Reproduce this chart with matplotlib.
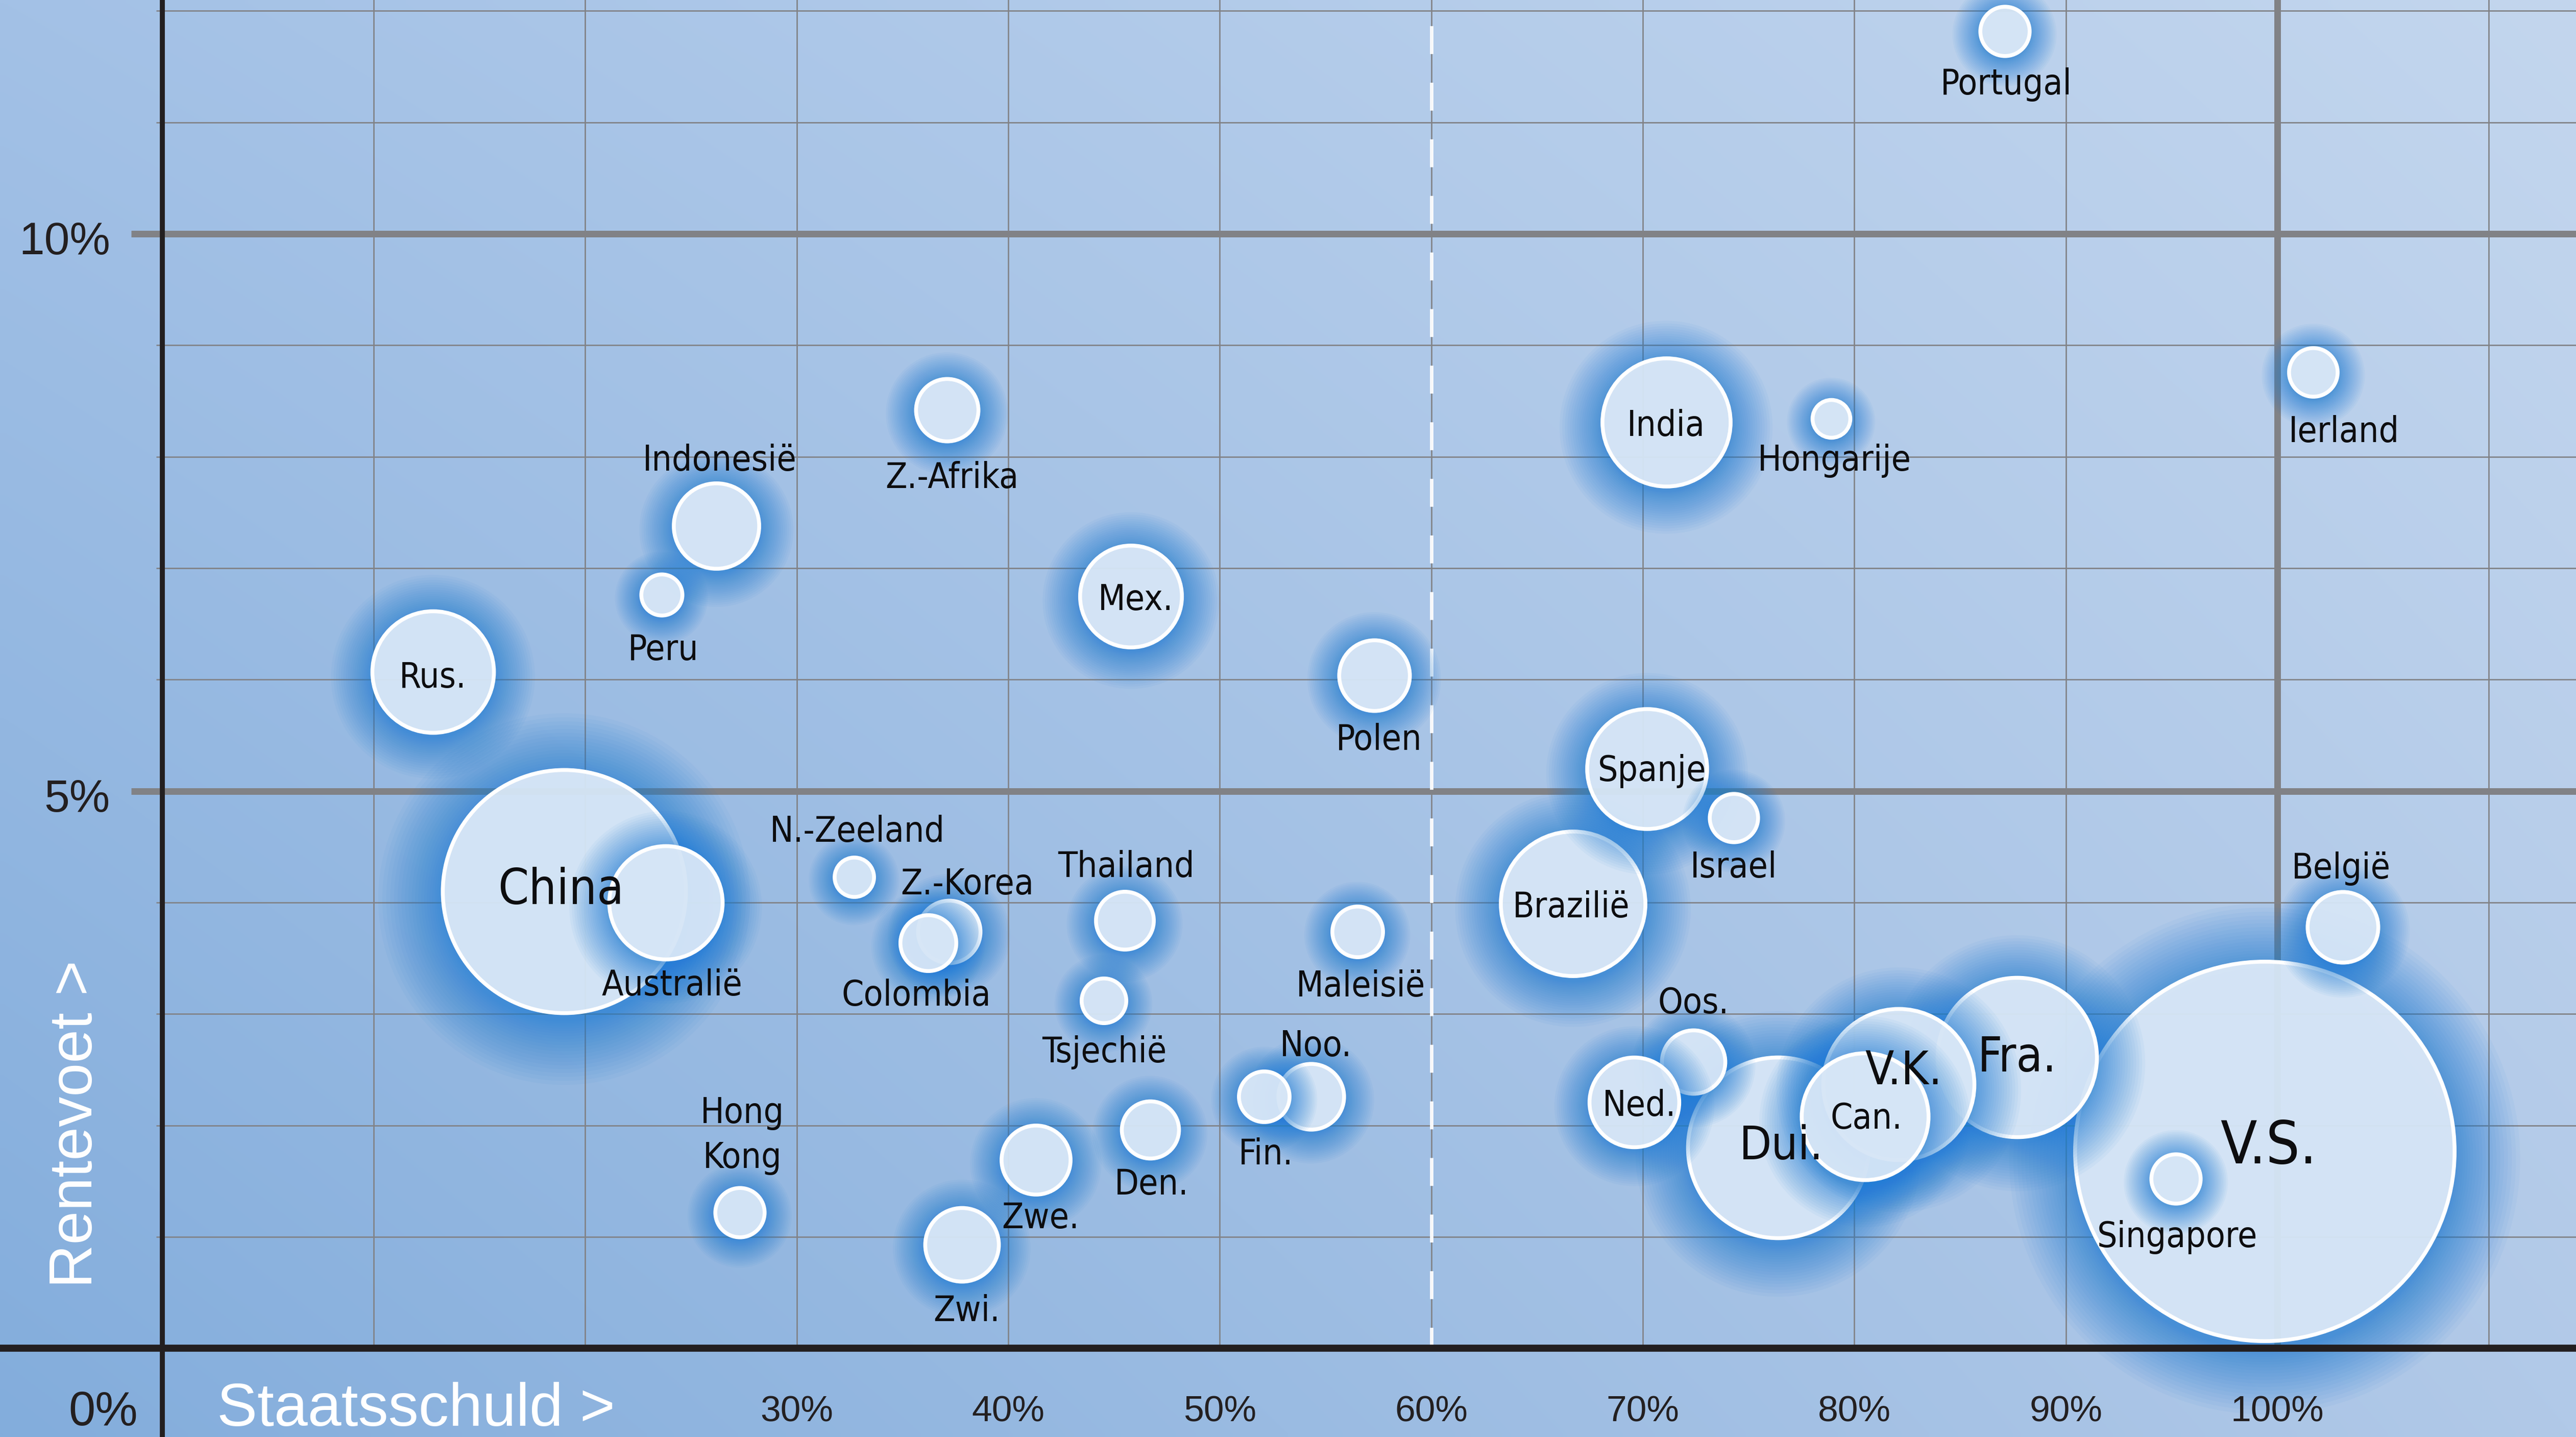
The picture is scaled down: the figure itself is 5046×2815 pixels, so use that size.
import numpy as np
import matplotlib
matplotlib.use('Agg')
import matplotlib.pyplot as plt
from matplotlib.colors import to_rgb

# --- DATA (drawing order: back to front) ---
landen = ['V.S.', 'China', 'Dui.', 'Fra.', 'V.K.', 'Brazilië', 'India', 'Can.', 'Rus.',
          'Spanje', 'Australië', 'Mex.', 'Oos.', 'Ned.', 'Indonesië', 'Zwi.', 'Polen',
          'België', 'Zwe.', 'Noo.', 'Z.-Korea', 'Z.-Afrika', 'Thailand', 'Den.', 'Colombia',
          'Maleisië', 'Fin.', 'Portugal', 'Singapore', 'Hong\nKong', 'Ierland', 'Israel',
          'Tsjechië', 'Peru', 'N.-Zeeland', 'Hongarije']
staatsschuld = [99.4, 19.0, 76.4, 87.7, 82.1, 66.7, 71.1, 80.5, 12.8,
                70.2, 23.8, 45.8, 72.4, 69.6, 26.2, 37.8, 57.3,
                103.1, 41.3, 54.3, 37.2, 37.1, 45.5, 46.7, 36.2,
                56.5, 52.1, 87.1, 95.2, 27.3, 101.7, 74.3,
                44.5, 23.6, 32.7, 78.9]
rentevoet = [1.77, 4.10, 1.80, 2.61, 2.37, 3.99, 8.31, 2.08, 6.07,
             5.20, 4.00, 6.75, 2.57, 2.21, 7.38, 0.93, 6.04,
             3.78, 1.69, 2.26, 3.74, 8.42, 3.84, 1.96, 3.64,
             3.74, 2.26, 11.82, 1.52, 1.22, 8.76, 4.76,
             3.12, 6.76, 4.23, 8.34]
omvang = [14941, 6133, 3388, 2634, 2370, 2168, 1704, 1669, 1533,
          1492, 1333, 1076, 417, 835, 757, 562, 518,
          518, 494, 448, 404, 404, 347, 339, 324,
          266, 266, 252, 252, 252, 245, 242,
          207, 175, 161, 148]

x_ticks = [30, 40, 50, 60, 70, 80, 90, 100]
y_ticks = [0, 5, 10]

# --- layout / style ---
W, H = 15.68, 8.75
DPI = 5046 / W
PT = 0.72                      # points per reference pixel (1568 px wide)
XMIN, XMAX = -7.670, 114.12
YMIN, YMAX = -0.796, 12.102
PX_Y = (YMAX - YMIN) / 875     # data units per reference pixel (vertical)
GRID = '#818286'
INK = '#231f20'
GLOW = to_rgb('#1f7dd6')

# label offsets in reference px (x right, y down) and font sizes
label_offset = {
    'Portugal': (1, 30), 'Ierland': (18.5, 34), 'India': (0, 0), 'Hongarije': (2, 23),
    'Z.-Afrika': (3, 39), 'Indonesië': (2, -42), 'Peru': (1, 31), 'Mex.': (3, 0),
    'Rus.': (0, 1), 'Polen': (3, 37), 'Spanje': (3, -1), 'Israel': (0, 28),
    'België': (-1, -38), 'China': (-2, -4), 'Australië': (4, 48), 'N.-Zeeland': (2, -30),
    'Z.-Korea': (11, -31), 'Colombia': (-7, 30), 'Thailand': (1, -35), 'Tsjechië': (0.5, 29),
    'Maleisië': (2, 31), 'Brazilië': (-1, 0), 'Oos.': (0, -38), 'Ned.': (3, 0),
    'Dui.': (2, -4), 'Can.': (1, -1), 'V.K.': (3, -11), 'Fra.': (0, -3),
    'V.S.': (2.5, -6.5), 'Singapore': (1, 33), 'Noo.': (3, -33), 'Fin.': (1, 33),
    'Den.': (1, 31), 'Zwe.': (3, 33), 'Zwi.': (3, 38), 'Hong\nKong': (1.7, -52.5),
}
label_size = {'China': 21.5, 'Dui.': 20.5, 'V.K.': 20.5, 'Fra.': 21, 'V.S.': 26}

NARROW = dict(family=['Liberation Sans Narrow', 'DejaVu Sans'], fontstretch='condensed')
REGULAR = dict(family=['Liberation Sans', 'DejaVu Sans'])

fig = plt.figure(figsize=(W, H), dpi=DPI)
ax = fig.add_axes([0, 0, 1, 1])
ax.set_xlim(XMIN, XMAX)
ax.set_ylim(YMIN, YMAX)
ax.axis('off')

# background gradient
tl, tr = np.array(to_rgb('#a3c1e6')), np.array(to_rgb('#c3d6ee'))
bl, br = np.array(to_rgb('#83addc')), np.array(to_rgb('#b1c9e8'))
u = np.linspace(0, 1, 300)[None, :, None]
v = np.linspace(0, 1, 200)[:, None, None]
bg = (1 - v) * ((1 - u) * tl + u * tr) + v * ((1 - u) * bl + u * br)
ax.imshow(bg, extent=(XMIN, XMAX, YMIN, YMAX), aspect='auto', origin='upper',
          interpolation='bilinear', zorder=0)

# grid
for xv in range(10, 120, 10):
    ax.vlines(xv, 0, YMAX, colors=GRID, linewidth=2.9 if xv == 100 else 0.6, zorder=1)
for yv in range(1, 13):
    major = yv % 5 == 0
    ax.hlines(yv, -1.46 if major else -0.29, XMAX, colors=GRID,
              linewidth=2.9 if major else 0.6, zorder=1)

# 60% reference line
lw_d = 1.5
ax.plot([60, 60], [YMAX, 0], color='white', lw=lw_d, alpha=0.95, zorder=1.5,
        linestyle=(18.4 * PT / lw_d, (17 * PT / lw_d, 17.45 * PT / lw_d)))

# bubbles
N = 22
steps = (np.arange(N, 0, -1) / N) ** 1.4
for i, (naam, xs, ys, om) in enumerate(zip(landen, staatsschuld, rentevoet, omvang)):
    r = np.sqrt(om / 1.12)                     # radius in reference px
    g = min(11 + 0.38 * r, 40)
    radii = r + g * steps
    z = 10 + i
    gy = ys - 0.12 * g * PX_Y                  # glow sits slightly lower
    ax.scatter([xs] * N, [gy] * N, s=(2 * radii * PT) ** 2,
               color=[(*GLOW, 0.046)] * N, linewidths=0, zorder=z)
    ax.scatter([xs], [ys], s=(2 * r * PT) ** 2, facecolor=(0.92, 0.95, 0.985, 0.86),
               edgecolor='white', linewidths=1.7, zorder=z + 0.5)
    dx, dy = label_offset[naam]
    ax.annotate(naam, (xs, ys), xytext=(dx * PT, -dy * PT), textcoords='offset points',
                ha='center', va='center_baseline', fontsize=label_size.get(naam, 15.5),
                color='#0d0d0f', linespacing=1.4, zorder=200, **NARROW)

# axes lines
ax.axhline(0, color=INK, lw=3.1, zorder=100)
ax.axvline(0, color=INK, lw=2.2, zorder=100)

# tick labels
for xv in x_ticks:
    ax.text(xv, -0.537, f'{xv}%', ha='center', va='center_baseline', fontsize=16,
            color=INK, zorder=200, **REGULAR)
for yv in y_ticks:
    if yv == 0:
        ax.text(-1.146, -0.53, '0%', ha='right', va='center_baseline', fontsize=21,
                color=INK, zorder=200, **REGULAR)
    else:
        ax.text(-2.466, yv - 0.03, f'{yv}%', ha='right', va='center_baseline',
                fontsize=20, color=INK, zorder=200, **REGULAR)

# axis titles
ax.text(2.58, -0.494, 'Staatsschuld >', ha='left', va='center_baseline', fontsize=26.5,
        color='white', zorder=200, **REGULAR)
ax.text(-3.32, 0.545, 'Rentevoet >', rotation=90, rotation_mode='anchor', ha='left',
        va='baseline', fontsize=26.5, color='white', zorder=200, **REGULAR)

fig.savefig('out.png', dpi=DPI)
